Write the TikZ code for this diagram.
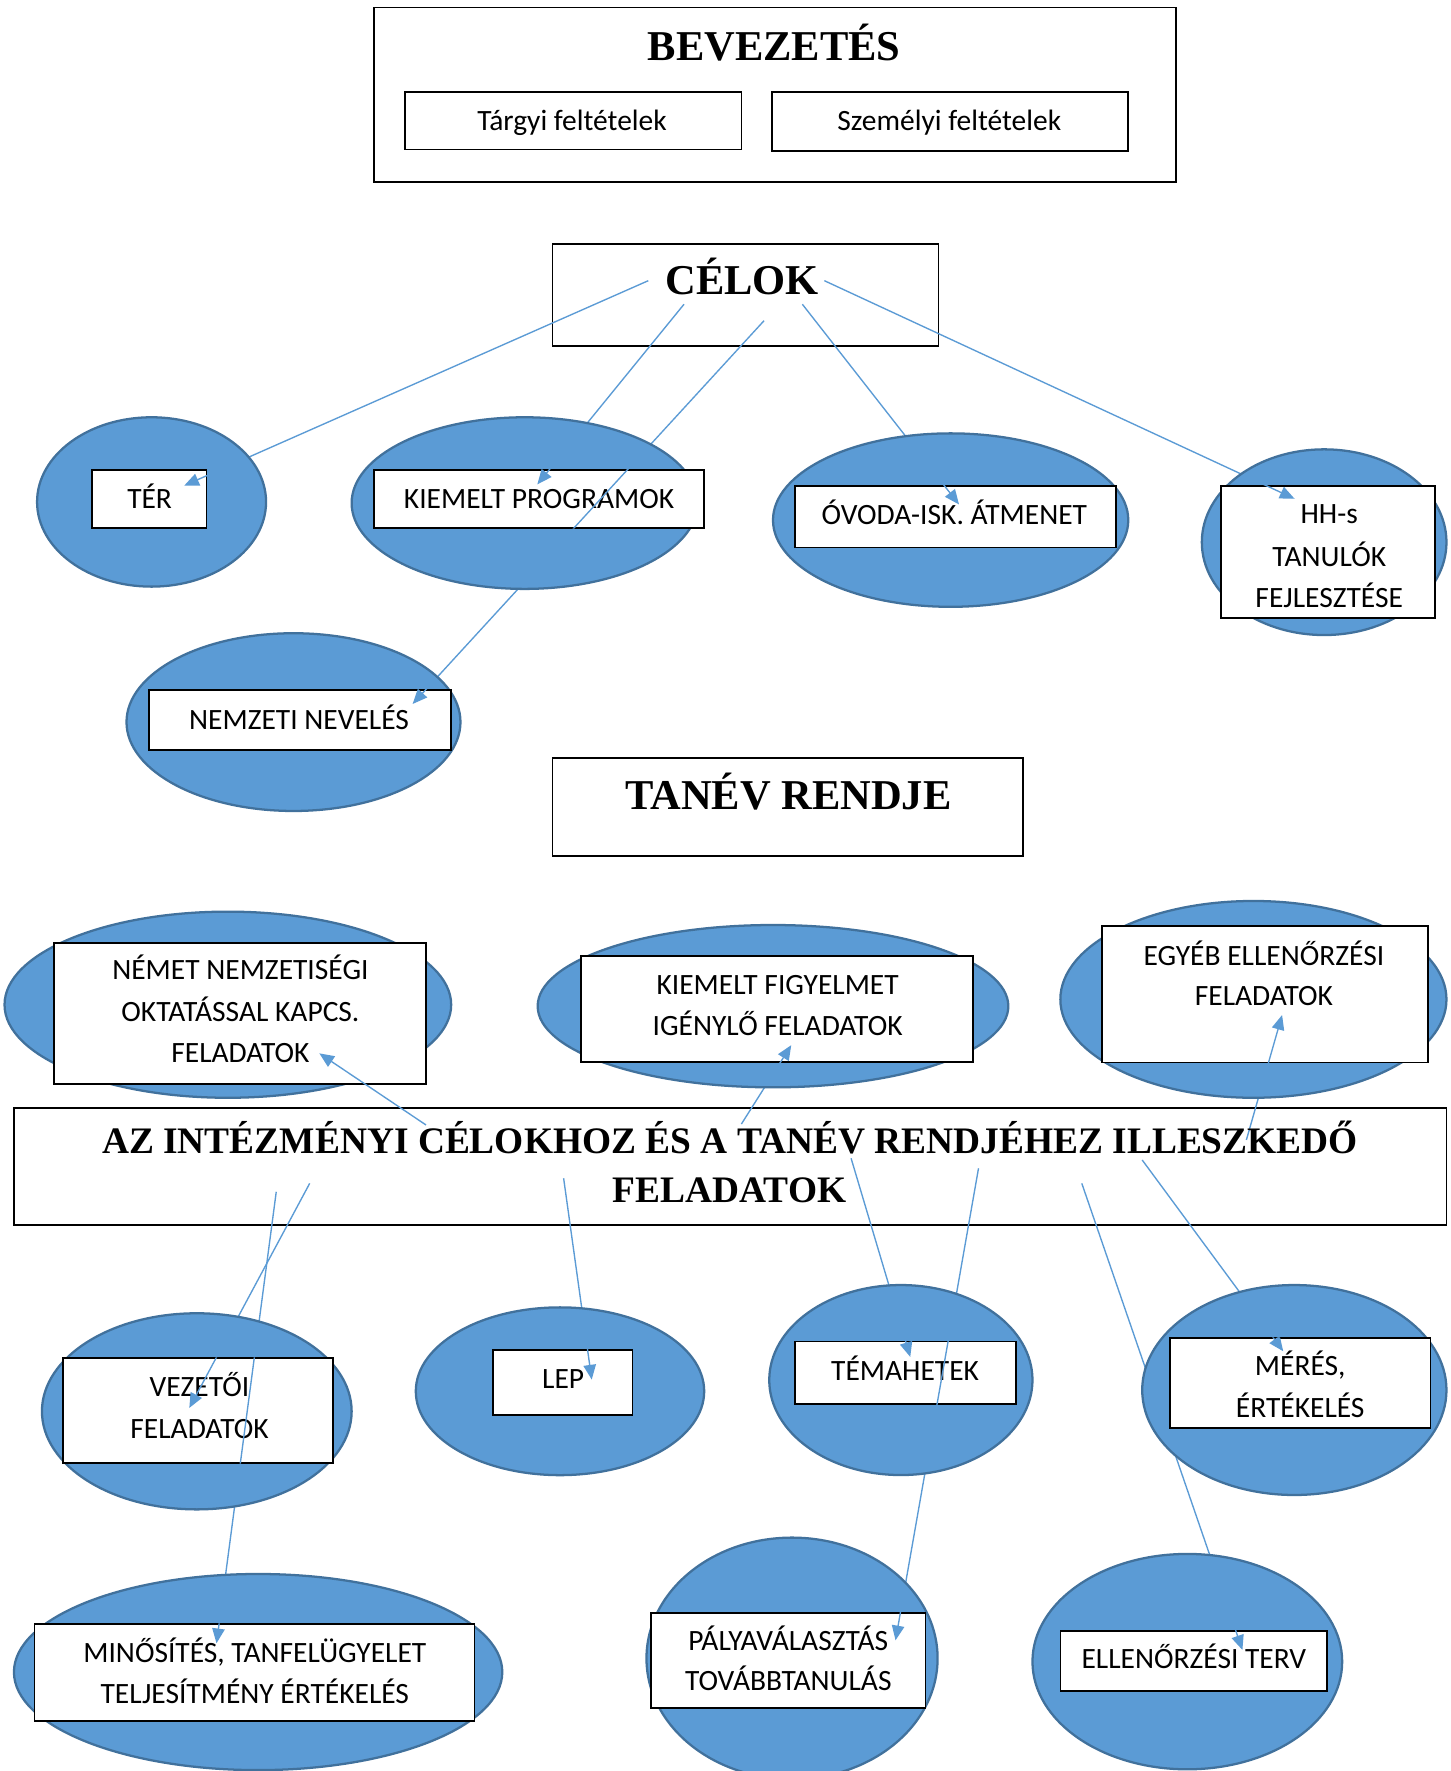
\documentclass[tikz,border=0pt]{standalone}
\usepackage{fontspec}
\setmainfont{Liberation Serif}
\newfontfamily\calfont{Carlito}
\usetikzlibrary{shapes.geometric,arrows.meta}
\definecolor{ellblue}{HTML}{5B9BD5}
\definecolor{ellborder}{HTML}{41719C}
\newcommand\rbox[5]{\node[bx,minimum width={(#4)-(#2)},minimum height={(#5)-(#3)}] (#1) at ({((#2)+(#4))/2},{((#3)+(#5))/2}) {};}
\newcommand\enode[5]{\node[ell,minimum width={2*(#4)},minimum height={2*(#5)}] (#1) at (#2,#3) {};}
\newcommand\rectof[1]{(#1.south west) rectangle (#1.north east)}
\newcommand\allconns{%
  \draw[conn] (ca0) -- (ca1);
  \draw[conn] (cb0) -- (cb1);
  \draw[conn] (cc0) -- (cc1);
  \draw[conn] (ce0) -- (ce1);
  \draw[conn] (cf0) -- (cf1);
  \draw[conn] (cg0) -- (cg1);
  \draw[conn] (ch0) -- (ch1);
  \draw[conn] (ci0) -- (ci1);
  \draw[conn] (cj0) -- (cj1);
  \draw[conn] (ck0) -- (ck1);
  \draw[conn] (cl0) -- (cl1);
  \draw[conn] (cm0) -- (cm1);
  \draw[conn] (cn0) -- (cn1);
  \draw[conn] (co0) -- (co1);
  \draw[conn] (cp0) -- (cp1);
}
\begin{document}
\begin{tikzpicture}[x=1pt,y=-1pt,
  ell/.style={ellipse,fill=ellblue,draw=ellborder,line width=2pt,inner sep=0pt},
  bx/.style={rectangle,fill=white,draw=black,line width=1.5pt,inner sep=0pt},
  ttl/.style={anchor=base,inner sep=0pt,font=\fontsize{37.5}{40}\selectfont\bfseries},
  big/.style={anchor=base,inner sep=0pt,font=\fontsize{33}{36}\selectfont\bfseries},
  lbl/.style={anchor=base,inner sep=0pt,font=\calfont\fontsize{26}{30}\selectfont},
  conn/.style={draw=ellblue,line width=1.2pt,-{Triangle[length=13pt,width=11pt]}}]
\useasboundingbox (0,0) rectangle (1280,1562.3);
\fill[white] (0,0) rectangle (1280,1562.3);

% free-standing boxes
\rbox{bev}{329.9}{6.5}{1037.2}{160.6}
\rbox{targyi}{357}{80.9}{654}{131.8}
\rbox{szemelyi}{681}{80.9}{995.3}{132.9}
\rbox{celok}{487.4}{215}{828}{305.3}
\rbox{tanev}{487.4}{668.9}{902.6}{755.1}
\rbox{feladat}{12.3}{977.7}{1276}{1080.6}

% connector end points
\coordinate (ca0) at (571.9,247.6);  \coordinate (ca1) at (162.5,428.4);
\coordinate (cb0) at (603.4,268.4);  \coordinate (cb1) at (474,427.3);
\coordinate (cc0) at (674,282.9);    \coordinate (cc1) at (364,621);
\coordinate (ce0) at (707.8,268.4);  \coordinate (ce1) at (846,445);
\coordinate (cf0) at (727.2,247.6);  \coordinate (cf1) at (1142,440);
\coordinate (cg0) at (375.8,992.4);  \coordinate (cg1) at (281.7,929.2);
\coordinate (ch0) at (654,991.6);    \coordinate (ch1) at (698,922);
\coordinate (ci0) at (1099.5,1005.6);\coordinate (ci1) at (1131,895.4);
\coordinate (cj0) at (243.7,1051.3); \coordinate (cj1) at (191,1449.6);
\coordinate (ck0) at (273.2,1043.9); \coordinate (ck1) at (167,1242);
\coordinate (cl0) at (497.2,1039.4); \coordinate (cl1) at (522,1217);
\coordinate (cm0) at (750.8,1021.8); \coordinate (cm1) at (803,1197);
\coordinate (cn0) at (863.2,1030.6); \coordinate (cn1) at (790,1447);
\coordinate (co0) at (954.3,1043.9); \coordinate (co1) at (1096,1455.5);
\coordinate (cp0) at (1007.6,1023.3);\coordinate (cp1) at (1132,1192);

\allconns

% ellipses
\enode{terE}{133.7}{442.8}{101}{74.7}
\enode{kpE}{462.8}{443.8}{152.6}{75.7}
\enode{ovE}{838.6}{458.8}{156.7}{76.5}
\enode{hhE}{1168.1}{478.3}{107.9}{81.9}
\enode{nnE}{258.9}{637}{147.3}{78.4}
\enode{nemE}{201}{886.3}{197}{82.1}
\enode{kfE}{681.9}{887.6}{207.6}{71.6}
\enode{egyE}{1105.7}{881.6}{170.3}{86.8}
\enode{vezE}{173.6}{1245}{136.6}{86.5}
\enode{lepE}{494}{1227.3}{127.2}{74}
\enode{temE}{794.7}{1217.4}{116.1}{83.8}
\enode{merE}{1141.8}{1226.2}{134.2}{92.6}
\enode{minE}{227.7}{1475}{215.4}{86.5}
\enode{palE}{698.7}{1462.9}{128.4}{106.5}
\enode{ellE}{1047.4}{1465.8}{136.6}{95}

% boxes inside ellipses
\rbox{ter}{81.2}{414.6}{182.2}{465.5}
\rbox{kp}{329.9}{414.6}{621.2}{465.5}
\rbox{ov}{701.6}{428.7}{984.7}{483.1}
\rbox{hh}{1077.4}{428.7}{1266.1}{545.4}
\rbox{nn}{131.3}{608.7}{398}{661.6}
\rbox{nem}{47.6}{831.6}{375.8}{956.5}
\rbox{kf}{512.8}{843.3}{858.3}{936.8}
\rbox{egy}{972.4}{816.9}{1259.5}{937.2}
\rbox{vez}{55.8}{1198.2}{293.8}{1290.3}
\rbox{lep}{434.9}{1190.9}{558}{1248.2}
\rbox{tem}{701.6}{1183.5}{896}{1238.8}
\rbox{mer}{1032.2}{1180.5}{1262}{1260}
\rbox{min}{30.4}{1432.9}{418.5}{1517.9}
\rbox{pal}{574.4}{1422.6}{816.4}{1507}
\rbox{ell}{935.4}{1438.5}{1170.9}{1491.4}

% texts
\node[ttl] (tbev) at (682.9,53.5) {BEVEZETÉS};
\node[lbl] (ttargyi) at (504.6,115.3) {Tárgyi feltételek};
\node[lbl] (tszem) at (837.4,115.3) {Személyi feltételek};
\node[ttl] (tcelok) at (654.7,260.2) {CÉLOK};
\node[ttl] (ttanev) at (695.4,714) {TANÉV RENDJE};
\node[big] (tfel1) at (644,1017.4) {AZ INTÉZMÉNYI CÉLOKHOZ ÉS A TANÉV RENDJÉHEZ ILLESZKEDŐ};
\node[big] (tfel2) at (643.7,1061) {FELADATOK};
\node[lbl] (tter) at (132,448.4) {TÉR};
\node[lbl] (tkp) at (475.5,448.4) {KIEMELT PROGRAMOK};
\node[lbl] (tov) at (841.9,462.5) {ÓVODA-ISK. ÁTMENET};
\node[lbl] (thh1) at (1172.6,462.2) {HH-s};
\node[lbl] (thh2) at (1172.6,499.3) {TANULÓK};
\node[lbl] (thh3) at (1172.6,535.7) {FEJLESZTÉSE};
\node[lbl] (tnn) at (263.8,643.1) {NEMZETI NEVELÉS};
\node[lbl] (tnem1) at (212.1,864.5) {NÉMET NEMZETISÉGI};
\node[lbl] (tnem2) at (212.1,901.3) {OKTATÁSSAL KAPCS.};
\node[lbl] (tnem3) at (212.1,937.5) {FELADATOK};
\node[lbl] (tkf1) at (686,877.7) {KIEMELT FIGYELMET};
\node[lbl] (tkf2) at (686,913.6) {IGÉNYLŐ FELADATOK};
\node[lbl] (tegy1) at (1115,851.3) {EGYÉB ELLENŐRZÉSI};
\node[lbl] (tegy2) at (1115,887.4) {FELADATOK};
\node[lbl] (tvez1) at (176,1232.1) {VEZETŐI};
\node[lbl] (tvez2) at (176,1268.8) {FELADATOK};
\node[lbl] (tlep) at (496.8,1224.7) {LEP};
\node[lbl] (ttem) at (798.4,1218) {TÉMAHETEK};
\node[lbl] (tmer1) at (1147,1213.8) {MÉRÉS,};
\node[lbl] (tmer2) at (1147,1250.3) {ÉRTÉKELÉS};
\node[lbl] (tmin1) at (224.8,1466.7) {MINŐSÍTÉS, TANFELÜGYELET};
\node[lbl] (tmin2) at (224.8,1502.6) {TELJESÍTMÉNY ÉRTÉKELÉS};
\node[lbl] (tpal1) at (695.4,1456.2) {PÁLYAVÁLASZTÁS};
\node[lbl] (tpal2) at (695.4,1491.6) {TOVÁBBTANULÁS};
\node[lbl] (tell) at (1053.2,1471.7) {ELLENŐRZÉSI TERV};

% connectors visible over the inner boxes
\begin{scope}
\clip \rectof{ter} \rectof{kp} \rectof{ov} \rectof{hh} \rectof{nn}
      \rectof{nem} \rectof{kf} \rectof{egy} \rectof{vez} \rectof{lep}
      \rectof{tem} \rectof{mer} \rectof{min} \rectof{pal} \rectof{ell};
\allconns
\end{scope}
\end{tikzpicture}
\end{document}
